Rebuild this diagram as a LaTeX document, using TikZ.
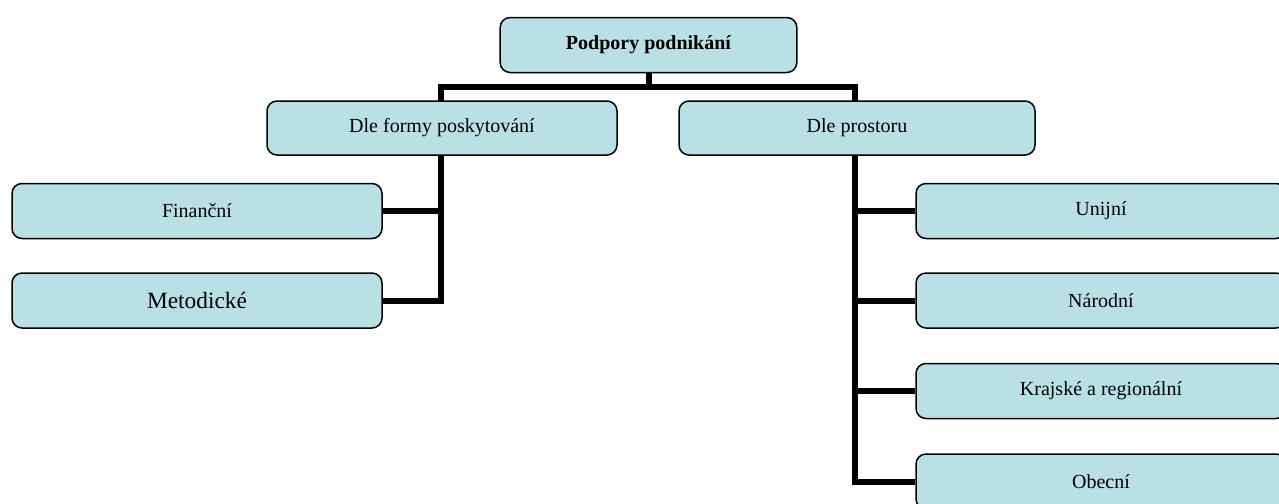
\documentclass[tikz,border=0pt]{standalone}
\usepackage{fontspec}
\setmainfont{Liberation Serif}
\usetikzlibrary{backgrounds}
\definecolor{boxfill}{RGB}{185,224,228}

\begin{document}
\begin{tikzpicture}[x=0.6pt, y=-0.6pt,
    box/.style={draw=black, line width=0.9pt, fill=boxfill, rounded corners=6pt,
      minimum height=33pt, inner sep=0pt, font=\fontsize{12}{14}\selectfont},
    link/.style={line width=3.6pt}]
  \path[use as bounding box, clip] (0,0) rectangle (1279,503);

  \node[box, minimum width=178pt, font=\fontsize{12}{14}\selectfont\bfseries] (root) at (648.5,45) {Podpory podnikání};

  \node[box, minimum width=210pt, minimum height=32.4pt] (formy) at (442,128) {Dle formy poskytování};
  \node[box, minimum width=213.6pt, minimum height=32.4pt] (prostor) at (857,128) {Dle prostoru};

  \node[box, minimum width=222pt] (financni) at (197,211) {Finanční};
  \node[box, minimum width=222pt, font=\fontsize{14}{16}\selectfont] (metodicke) at (197,300.5) {Metodické};

  \node[box, minimum width=222pt] (unijni) at (1101,211) {Unijní};
  \node[box, minimum width=222pt] (narodni) at (1101,300.5) {Národní};
  \node[box, minimum width=222pt] (krajske) at (1101,391) {Krajské a regionální};
  \node[box, minimum width=222pt] (obecni) at (1101,481.5) {Obecní};

  \coordinate (lbus) at (441,87);
  \coordinate (rbus) at (855,87);

  \begin{scope}[on background layer]
    \draw[link] (root.south) -- (root.south |- lbus);
    \draw[link] (metodicke.east) -| (lbus) -- (rbus) |- (obecni.west);
    \draw[link] (financni.east) -- (financni.east -| lbus);
    \draw[link] (unijni.west) -- (unijni.west -| rbus);
    \draw[link] (narodni.west) -- (narodni.west -| rbus);
    \draw[link] (krajske.west) -- (krajske.west -| rbus);
  \end{scope}
\end{tikzpicture}
\end{document}
